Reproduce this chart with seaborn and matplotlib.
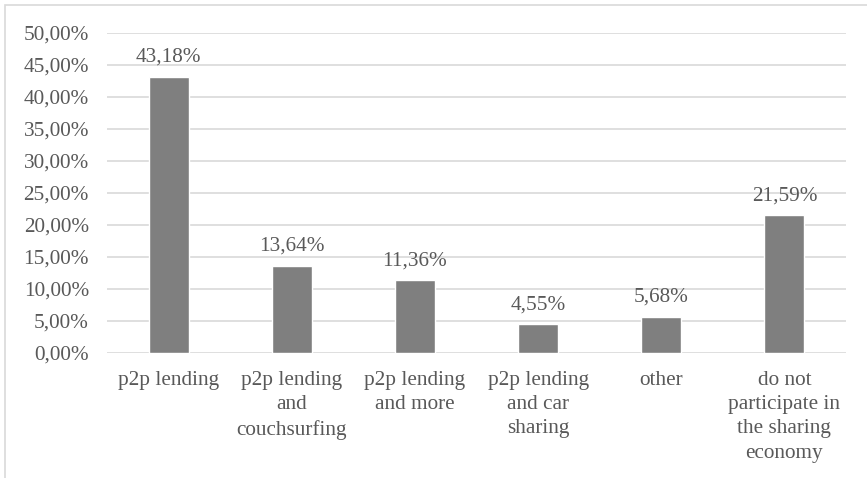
import matplotlib
matplotlib.use("Agg")
import matplotlib.pyplot as plt
import matplotlib.patches as mpatches
import seaborn as sns
import pandas as pd

categories = [
    "p2p lending",
    "p2p lending\nand\ncouchsurfing",
    "p2p lending\nand more",
    "p2p lending\nand car\nsharing",
    "other",
    "do not\nparticipate in\nthe sharing\neconomy",
]
shares = [43.18, 13.64, 11.36, 4.55, 5.68, 21.59]
y_ticks = [0, 5, 10, 15, 20, 25, 30, 35, 40, 45, 50]

sns.set_theme(style="white")
plt.rcParams["font.family"] = ["Liberation Serif", "DejaVu Serif"]

text_color = "#595959"
grid_color = "#d9d9d9"
bar_color = "#7f7f7f"
fs = 15.3

df = pd.DataFrame({"category": categories, "share": shares})

fig = plt.figure(figsize=(8.67, 4.78), dpi=100)
ax = fig.add_axes([107 / 867, 1 - 353 / 478, (846 - 107) / 867, (353 - 33) / 478])

sns.barplot(data=df, x="category", y="share", hue="category",
            palette=[bar_color] * len(categories), legend=False,
            width=0.325, ax=ax, saturation=1)

ax.set_ylim(0, 50)
ax.set_yticks(y_ticks)
ax.set_yticklabels([f"{v:.2f}".replace(".", ",") + "%" for v in y_ticks])
ax.yaxis.grid(True, color=grid_color, linewidth=1.2)
ax.set_axisbelow(True)
for s in ax.spines.values():
    s.set_visible(False)
ax.set_xlabel("")
ax.set_ylabel("")
ax.tick_params(axis="y", length=0, pad=13, labelsize=fs, labelcolor=text_color)
ax.tick_params(axis="x", length=0, pad=13, labelsize=fs, labelcolor=text_color)
for lbl in ax.get_xticklabels():
    lbl.set_linespacing(1.37)
    lbl.set_verticalalignment("top")

for i, v in enumerate(shares):
    ax.annotate(f"{v:.2f}".replace(".", ",") + "%", (i, v),
                xytext=(0, 7), textcoords="offset points",
                ha="center", va="bottom", fontsize=fs, color=text_color)

# light frame around the chart area
fig.patches.append(mpatches.Rectangle((5 / 867, -0.1), 1.2, 1 - 5 / 478 + 0.1,
                                      transform=fig.transFigure, fill=False,
                                      edgecolor=grid_color, linewidth=1.2))

fig.savefig("out.png", dpi=100)
